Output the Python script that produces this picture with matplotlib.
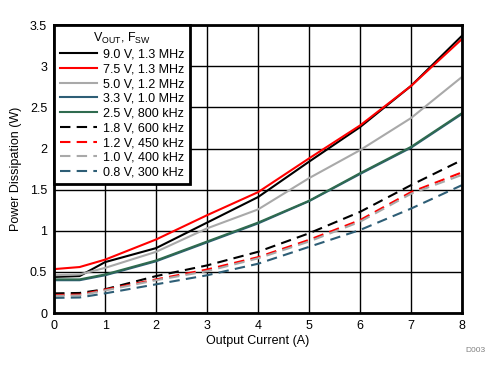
import matplotlib
matplotlib.use("Agg")
import matplotlib.pyplot as plt
from matplotlib.ticker import FuncFormatter

plt.rcParams["font.family"] = ["Liberation Sans", "DejaVu Sans"]

# output current (A)
current = [0, 0.5, 1, 2, 3, 4, 5, 6, 7, 8]

# power dissipation (W)
p_9v0 = [0.44, 0.45, 0.62, 0.79, 1.10, 1.41, 1.84, 2.26, 2.76, 3.37]
p_7v5 = [0.535, 0.56, 0.65, 0.895, 1.19, 1.47, 1.88, 2.28, 2.76, 3.33]
p_5v0 = [0.46, 0.47, 0.55, 0.745, 1.03, 1.26, 1.64, 1.98, 2.37, 2.87]
p_3v3 = [0.40, 0.40, 0.46, 0.63, 0.86, 1.09, 1.36, 1.69, 2.01, 2.42]
p_2v5 = [0.41, 0.41, 0.47, 0.64, 0.87, 1.10, 1.365, 1.70, 2.02, 2.43]
p_1v8 = [0.24, 0.245, 0.29, 0.45, 0.58, 0.745, 0.97, 1.23, 1.555, 1.86]
p_1v2 = [0.22, 0.225, 0.285, 0.41, 0.53, 0.68, 0.89, 1.13, 1.47, 1.71]
p_1v0 = [0.21, 0.215, 0.275, 0.40, 0.51, 0.665, 0.87, 1.11, 1.45, 1.68]
p_0v8 = [0.185, 0.19, 0.24, 0.35, 0.46, 0.60, 0.805, 1.01, 1.27, 1.555]

labels = ["9.0 V, 1.3 MHz", "7.5 V, 1.3 MHz", "5.0 V, 1.2 MHz", "3.3 V, 1.0 MHz",
          "2.5 V, 800 kHz", "1.8 V, 600 kHz", "1.2 V, 450 kHz", "1.0 V, 400 kHz",
          "0.8 V, 300 kHz"]
series = [p_9v0, p_7v5, p_5v0, p_3v3, p_2v5, p_1v8, p_1v2, p_1v0, p_0v8]
colors = ["black", "#ff0000", "#a9a9a9", "#2e5e76", "#2f6b4f",
          "black", "#ff0000", "#a9a9a9", "#2e5e76"]
styles = ["-"] * 5 + [(0, (5, 3))] * 4

fig = plt.figure(figsize=(5.01, 3.75), dpi=100)
ax = fig.add_axes([0.108, 0.165, 0.814, 0.768])

for y, lab, c, ls in zip(series, labels, colors, styles):
    ax.plot(current, y, color=c, linestyle=ls, linewidth=1.5, label=lab)

ax.set_xlim(0, 8)
ax.set_ylim(0, 3.5)
ax.set_xticks(range(0, 9))
ax.set_yticks([i * 0.5 for i in range(8)])
ax.yaxis.set_major_formatter(FuncFormatter(lambda v, p: f"{v:g}"))
ax.grid(True, color="black", linewidth=1.0)
ax.set_axisbelow(True)
ax.tick_params(length=0, labelsize=9, pad=5)
for s in ax.spines.values():
    s.set_linewidth(2)

ax.set_xlabel("Output Current (A)", fontsize=9, labelpad=2)
ax.set_ylabel("Power Dissipation (W)", fontsize=9, labelpad=6)

leg = ax.legend(loc="upper left", fontsize=9, frameon=True, fancybox=False,
                handlelength=3.0, handletextpad=0.5, labelspacing=0.22,
                borderpad=0.45, borderaxespad=0,
                title=r"V$_{\mathregular{OUT}}$, F$_{\mathregular{SW}}$",
                title_fontsize=9)
leg.get_frame().set_edgecolor("black")
leg.get_frame().set_linewidth(2)
leg.get_frame().set_alpha(1)

fig.text(0.97, 0.06, "D003", fontsize=6, color="#808080", ha="right")

fig.savefig("out.png", dpi=100)
